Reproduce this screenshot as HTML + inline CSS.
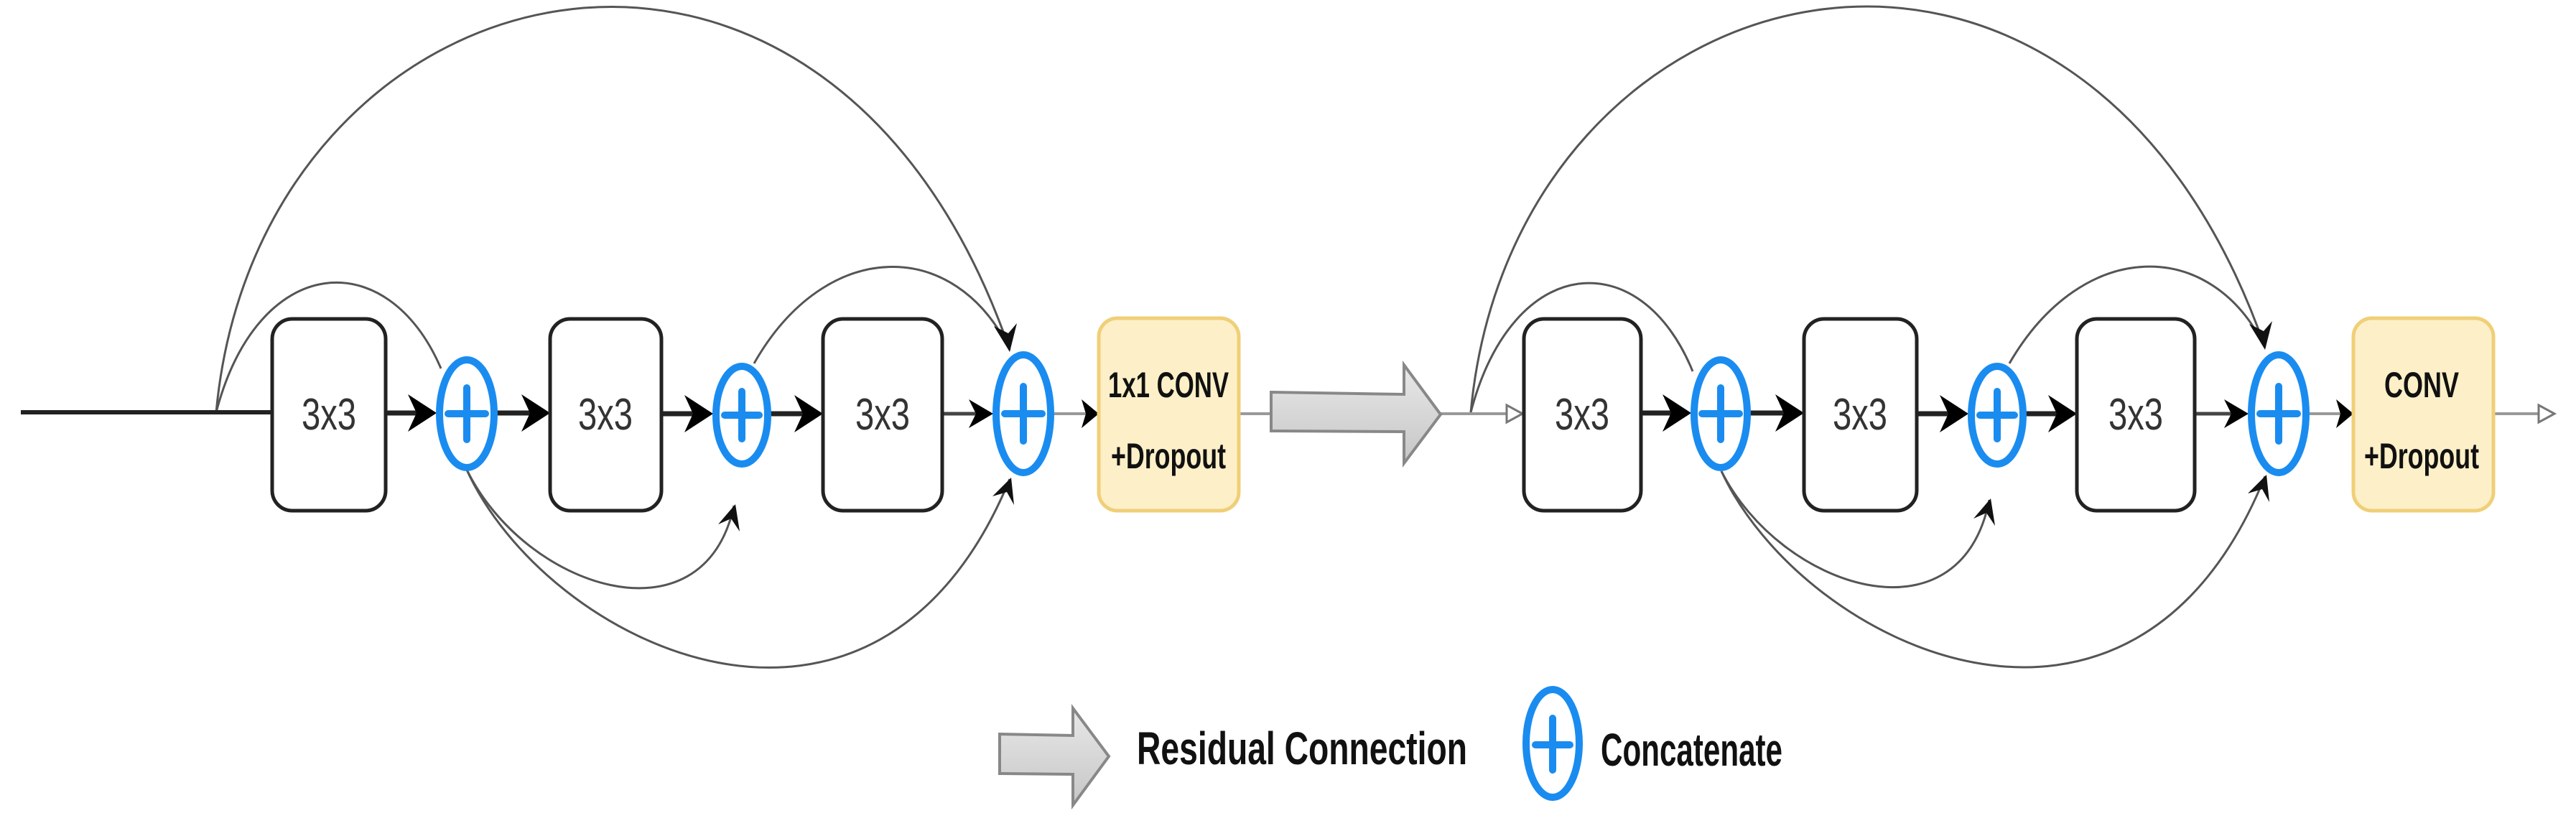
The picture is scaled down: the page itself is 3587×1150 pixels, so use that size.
<!DOCTYPE html>
<html><head><meta charset="utf-8"><style>html,body{margin:0;padding:0;background:#fff}svg{display:block}</style></head>
<body>
<svg width="3587" height="1150" viewBox="0 0 3587 1150" xmlns="http://www.w3.org/2000/svg">
<defs>
<linearGradient id="gg" x1="0" y1="0" x2="0" y2="1"><stop offset="0" stop-color="#e8e8e8"/><stop offset="1" stop-color="#c6c6c6"/></linearGradient>
</defs>

<g fill="none" stroke="#555" stroke-width="3">
<path d="M301,574 C360,-60 1150,-254 1406,487"/>
<path d="M301,574 C360,350 540,340 614,513"/>
<path d="M1050,506 C1150,330 1330,330 1406,487"/>
<path d="M649,652 C730,820 980,900 1022,704"/>
<path d="M649,652 C760,900 1220,1120 1406,667"/>
<path d="M2048,574 C2107,-60 2897,-254 3154,484"/>
<path d="M2048,574 C2107,350 2285,340 2357,517"/>
<path d="M2798,506 C2900,330 3080,330 3154,484"/>
<path d="M2397,656 C2480,820 2730,900 2770,696"/>
<path d="M2397,656 C2510,900 2970,1120 3154,663"/>
</g>
<g fill="#111">
<path d="M1406,490 l-22,-36 l20,10 l12,-14 Z"/>
<path d="M1024,702 l-24,28 l18,-8 l12,18 Z"/>
<path d="M1408,665 l-26,26 l20,-6 l10,18 Z"/>
<path d="M3154,487 l-22,-36 l20,10 l12,-14 Z"/>
<path d="M2772,694 l-24,28 l18,-8 l12,18 Z"/>
<path d="M3156,661 l-26,26 l20,-6 l10,18 Z"/>
</g>

<line x1="29" y1="574" x2="379" y2="574" stroke="#222" stroke-width="6"/>
<g stroke="#222" stroke-width="7">
<line x1="537" y1="575" x2="590" y2="575"/>
<line x1="692" y1="575" x2="745" y2="575"/>
<line x1="921" y1="576" x2="975" y2="576"/>
<line x1="1073" y1="576" x2="1125" y2="576"/>
<line x1="2285" y1="575" x2="2338" y2="575"/>
<line x1="2437" y1="575" x2="2490" y2="575"/>
<line x1="2669" y1="576" x2="2722" y2="576"/>
<line x1="2821" y1="576" x2="2872" y2="576"/>
</g>
<line x1="1312" y1="576" x2="1370" y2="576" stroke="#444" stroke-width="5"/>
<line x1="3056" y1="576" x2="3115" y2="576" stroke="#444" stroke-width="5"/>
<g stroke="#999" stroke-width="4">
<line x1="1467" y1="576" x2="1772" y2="576"/>
<line x1="2005" y1="576" x2="2105" y2="576"/>
<line x1="3215" y1="576" x2="3277" y2="576"/>
<line x1="3472" y1="576" x2="3545" y2="576"/>
</g>
<g fill="#000">
<path d="M608,575 l-40,-26 l12,26 l-12,26 Z"/>
<path d="M766,575 l-40,-26 l12,26 l-12,26 Z"/>
<path d="M993,576 l-40,-26 l12,26 l-12,26 Z"/>
<path d="M1146,576 l-40,-26 l12,26 l-12,26 Z"/>
<path d="M1383,576 l-34,-20 l10,20 l-10,20 Z"/>
<path d="M1530,576 l-24,-20 l6,20 l-6,20 Z"/>
<path d="M2355,575 l-40,-26 l12,26 l-12,26 Z"/>
<path d="M2512,575 l-40,-26 l12,26 l-12,26 Z"/>
<path d="M2741,576 l-40,-26 l12,26 l-12,26 Z"/>
<path d="M2892,576 l-40,-26 l12,26 l-12,26 Z"/>
<path d="M3131,576 l-34,-20 l10,20 l-10,20 Z"/>
<path d="M3277,576 l-24,-20 l6,20 l-6,20 Z"/>
</g>
<g fill="#fff" stroke="#777" stroke-width="3">
<path d="M2120,576 l-22,-12 l0,24 Z"/>
<path d="M3557,576 l-22,-12 l0,24 Z"/>
</g>

<path d="M1770,546 L1955,549 L1955,508 L2006,577 L1955,645 L1955,601 L1770,600 Z" fill="url(#gg)" stroke="#888" stroke-width="4"/>

<g fill="#fff" stroke="#222" stroke-width="5">
<rect x="379" y="444" width="158" height="267" rx="28"/>
<rect x="766" y="444" width="155" height="267" rx="28"/>
<rect x="1146" y="444" width="166" height="267" rx="28"/>
<rect x="2122" y="444" width="163" height="267" rx="28"/>
<rect x="2512" y="444" width="157" height="267" rx="28"/>
<rect x="2892" y="444" width="164" height="267" rx="28"/>
</g>
<g fill="#fdf0c8" stroke="#f0cf78" stroke-width="5">
<rect x="1530" y="443" width="195" height="268" rx="26"/>
<rect x="3277" y="443" width="195" height="268" rx="26"/>
</g>

<g fill="#fff" stroke="#1a8cf0" stroke-width="10">
<ellipse cx="650" cy="576" rx="38" ry="75"/>
<ellipse cx="1033" cy="578" rx="36" ry="68"/>
<ellipse cx="1425" cy="576" rx="38" ry="82"/>
<ellipse cx="2396" cy="576" rx="37" ry="75"/>
<ellipse cx="2781" cy="578" rx="36" ry="68"/>
<ellipse cx="3173" cy="576" rx="38" ry="82"/>
<ellipse cx="2162" cy="1035" rx="37" ry="75"/>
</g>
<g stroke="#1a8cf0" stroke-width="10" stroke-linecap="round">
<path d="M624,576 h52 M650,540 v72"/>
<path d="M1009,578 h48 M1033,545 v66"/>
<path d="M1399,576 h52 M1425,538 v76"/>
<path d="M2370,576 h52 M2396,540 v72"/>
<path d="M2757,578 h48 M2781,545 v66"/>
<path d="M3147,576 h52 M3173,538 v76"/>
<path d="M2138,1037 h48 M2162,1000 v72"/>
</g>

<g font-family="'Liberation Sans', sans-serif" fill="#333" font-size="62" text-anchor="middle">
<text x="458" y="598" textLength="76" lengthAdjust="spacingAndGlyphs">3x3</text>
<text x="843" y="598" textLength="76" lengthAdjust="spacingAndGlyphs">3x3</text>
<text x="1229" y="598" textLength="76" lengthAdjust="spacingAndGlyphs">3x3</text>
<text x="2203" y="598" textLength="76" lengthAdjust="spacingAndGlyphs">3x3</text>
<text x="2590" y="598" textLength="76" lengthAdjust="spacingAndGlyphs">3x3</text>
<text x="2974" y="598" textLength="76" lengthAdjust="spacingAndGlyphs">3x3</text>
</g>
<g font-family="'Liberation Sans', sans-serif" font-weight="bold" fill="#111" font-size="50" text-anchor="middle">
<text x="1627" y="553" textLength="168" lengthAdjust="spacingAndGlyphs">1x1 CONV</text>
<text x="1627" y="652" textLength="160" lengthAdjust="spacingAndGlyphs">+Dropout</text>
<text x="3372" y="553" textLength="104" lengthAdjust="spacingAndGlyphs">CONV</text>
<text x="3372" y="652" textLength="160" lengthAdjust="spacingAndGlyphs">+Dropout</text>
</g>

<path d="M1392,1022 L1494,1024 L1494,986 L1544,1053 L1494,1121 L1494,1078 L1392,1077 Z" fill="url(#gg)" stroke="#888" stroke-width="4"/>
<g font-family="'Liberation Sans', sans-serif" font-weight="bold" fill="#111" font-size="64">
<text x="1583" y="1064" textLength="460" lengthAdjust="spacingAndGlyphs">Residual Connection</text>
<text x="2229" y="1066" textLength="253" lengthAdjust="spacingAndGlyphs">Concatenate</text>
</g>
</svg>
</body></html>
